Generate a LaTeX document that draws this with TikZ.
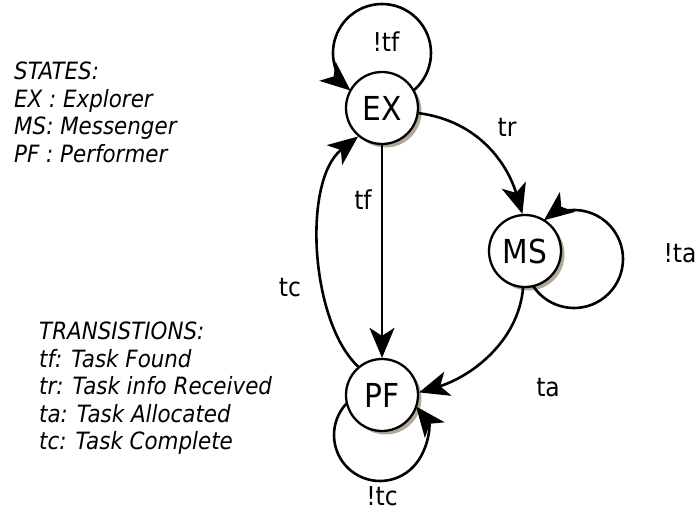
\documentclass[tikz,border=0pt]{standalone}
\usepackage{fontspec}
\setmainfont{DejaVu Sans Condensed}
\usetikzlibrary{arrows.meta,shadows}
\definecolor{shadowc}{RGB}{178,168,150}
\tikzset{
  state/.style={circle, draw, fill=white, line width=2.3pt, minimum size=72pt,
    inner sep=0pt, font=\fontsize{33}{33}\selectfont,
    drop shadow={shadow xshift=3.5pt, shadow yshift=-3.5pt, fill=shadowc, opacity=1}},
  conn/.style={line width=2.6pt, -{Stealth[length=30pt,width=25pt,inset=8pt]}},
  lbl/.style={font=\fontsize{26}{26}\selectfont, inner sep=0pt},
  legend/.style={font=\fontsize{23.8}{27.5}\selectfont\itshape, align=left,
    anchor=north west, inner sep=0pt}
}
\begin{document}
\begin{tikzpicture}[x=1pt,y=1pt]
\useasboundingbox (0,0) rectangle (699,-514);

% states
\node[state] (EX) at (382,-108) {EX};
\node[state] (MS) at (525,-251) {MS};
\node[state] (PF) at (382,-395) {PF};

% centres of the self-loop circles
\coordinate (EXloop) at (382,-53);
\coordinate (MSloop) at (574,-259);
\coordinate (PFloop) at (380,-435);

% self loops
\draw[conn] ([shift={(-50:49)}]EXloop) arc[start angle=-50, end angle=230, radius=49];
\draw[conn] ([shift={(-146.5:49)}]MSloop) arc[start angle=-146.5, end angle=127.9, radius=49];
\draw[conn] ([shift={(136.1:46)}]PFloop) arc[start angle=136.1, end angle=398.3, radius=46];

% transitions
\draw[conn] (EX.-8) .. controls +(60,-8) and +(-15,50) .. (MS.94);
\draw[conn] (EX) -- (PF);
\draw[conn] (MS.-93) .. controls +(-5,-55) and +(50,15) .. (PF.4);
\draw[conn] (PF.130) .. controls +(-48,45) and +(-56,-44) .. (EX.-130);

% transition labels
\node[lbl] (ltf) at (386,-42) {!tf};
\node[lbl] (lta) at (680,-253) {!ta};
\node[lbl] (ltc) at (382,-496) {!tc};
\node[lbl] (ltr) at (507,-127) {tr};
\node[lbl] (lf) at (363,-200) {tf};
\node[lbl] (la) at (548,-388) {ta};
\node[lbl] (lc) at (290,-288) {tc};

% legends
\node[legend] (states) at (14,-62) {STATES:\\EX : Explorer\\MS: Messenger\\PF : Performer};
\node[legend] (trans) at (39,-322) {TRANSISTIONS:\\tf: Task Found\\tr: Task info Received\\ta: Task Allocated\\tc: Task Complete};
\end{tikzpicture}
\end{document}
